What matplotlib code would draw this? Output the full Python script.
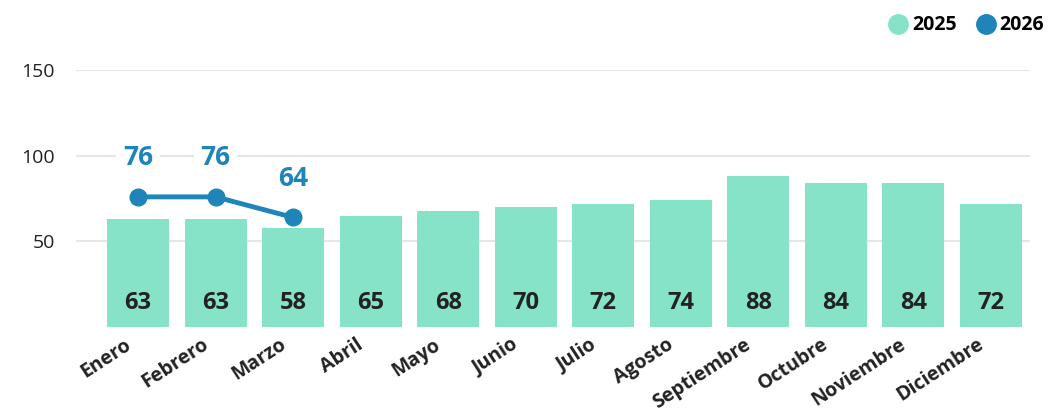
import matplotlib
matplotlib.use("Agg")
import matplotlib.pyplot as plt
import matplotlib.transforms as mtransforms
from matplotlib.lines import Line2D

months = ["Enero", "Febrero", "Marzo", "Abril", "Mayo", "Junio", "Julio",
          "Agosto", "Septiembre", "Octubre", "Noviembre", "Diciembre"]
sales_2025 = [63, 63, 58, 65, 68, 70, 72, 74, 88, 84, 84, 72]
sales_2026 = [76, 76, 64]
y_ticks = [50, 100, 150]

bar_color = "#86E3C8"
line_color = "#1F84BA"
text_color = "#222222"

plt.rcParams["font.family"] = ["Open Sans", "DejaVu Sans"]

fig = plt.figure(figsize=(10.48, 4.15), dpi=100)
ax = fig.add_axes([0.0725, 0.212, 0.91, 0.619])

x = list(range(len(months)))
ax.bar(x, sales_2025, width=0.8, color=bar_color, zorder=2)
for i, v in enumerate(sales_2025):
    ax.text(i, 14.0, str(v), ha="center", va="center", fontsize=17,
            fontweight="bold", color=text_color, zorder=3)

# 2026 line with labels above the points
x26 = x[:len(sales_2026)]
ax.plot(x26, sales_2026, color=line_color, lw=3.5, marker="o", ms=12, zorder=4)
for i, v in zip(x26, sales_2026):
    ax.annotate(str(v), (i, v), xytext=(0, 28), textcoords="offset points",
                ha="center", va="center", fontsize=19, fontweight="bold",
                color=line_color, zorder=5,
                bbox=dict(boxstyle="square,pad=0.25", fc="white", ec="none"))

ax.set_xlim(-0.8, 11.5)
ax.set_ylim(0, 150)
ax.set_yticks(y_ticks)
ax.set_yticklabels([str(t) for t in y_ticks], fontsize=14, color=text_color)
ax.yaxis.grid(True, color="#E6E6E6", lw=1.5, zorder=0)
ax.set_axisbelow(True)
ax.tick_params(axis="y", length=0, pad=15)
ax.tick_params(axis="x", length=0, pad=11.5)
ax.set_xticks(x)
ax.set_xticklabels(months, rotation=33, ha="right", va="center",
                   rotation_mode="anchor", fontsize=14, fontweight="bold",
                   color=text_color)
shift = mtransforms.ScaledTranslation(-9 / 100, 0, fig.dpi_scale_trans)
for lbl in ax.get_xticklabels():
    lbl.set_transform(lbl.get_transform() + shift)
for s in ax.spines.values():
    s.set_visible(False)

handles = [Line2D([], [], marker="o", ls="", ms=14, color=bar_color),
           Line2D([], [], marker="o", ls="", ms=14, color=line_color)]
fig.legend(handles, ["2025", "2026"], loc="upper right",
           bbox_to_anchor=(1.013, 1.005), ncol=2, frameon=False,
           handletextpad=0.2, columnspacing=1.0, handlelength=1.0,
           prop={"size": 14, "weight": "bold"})

fig.savefig("out.png", dpi=100)
